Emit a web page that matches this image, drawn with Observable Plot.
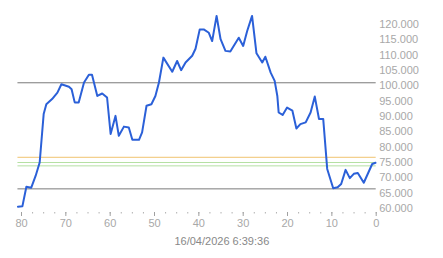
<!DOCTYPE html>
<html>
<head>
<meta charset="utf-8">
<script src="https://cdn.jsdelivr.net/npm/d3@7"></script>
<script src="https://cdn.jsdelivr.net/npm/@observablehq/plot@0.6"></script>
<style>
  html, body { margin: 0; padding: 0; background: #fff; }
  #chart svg { display: block; }
</style>
</head>
<body>
<div id="chart"></div>
<script>
// Days ago (x) and price (y)
const days = [80.8, 79.8, 78.9, 77.8, 76.8, 75.9, 75.0, 74.4, 73.1, 71.9, 71.0, 69.3, 68.7, 68.0, 67.1, 65.9, 64.8, 64.1, 62.9, 61.8,
  60.7, 59.9, 58.8, 58.05, 56.9, 55.8, 55.0, 53.5, 52.8, 51.8, 50.7, 49.8, 49.0, 48.0, 46.0, 44.9, 44.0, 43.0, 41.5, 40.75,
  39.8, 38.9, 37.75, 37.0, 36.0, 35.1, 34.0, 32.9, 31.0, 30.0, 29.1, 28.0, 27.0, 25.7, 25.0, 23.8, 22.9, 22.3, 22.0, 21.1,
  20.1, 18.9, 18.0, 17.1, 15.9, 14.8, 13.85, 12.9, 11.95, 11.05, 9.7, 8.7, 7.9, 6.9, 5.95, 5.05, 4.15, 2.8, 0.9, 0.15];
const prices = [60600, 60700, 67100, 66800, 70700, 75000, 90800, 94000, 95700, 97800, 100500, 99700, 98900, 94600, 94600, 101100, 103600, 103600, 96700, 97500,
  96200, 84300, 90200, 83700, 86700, 86400, 82400, 82400, 84800, 93500, 94000, 96700, 101100, 109200, 104600, 108100, 105100, 107600, 109800, 112100,
  118400, 118400, 117300, 114600, 122800, 115200, 111400, 111200, 115700, 113000, 117900, 122800, 110600, 107600, 109500, 104300, 101600, 96700, 91300, 90500,
  92900, 91900, 86100, 87500, 88100, 91300, 96500, 89200, 89200, 72900, 66600, 66900, 68000, 72600, 69900, 71300, 71600, 68400, 74500, 74900];

const refLevels = [101000, 66400, 76700, 75000, 73900];
const refColors = ["#7a7a7a", "#7a7a7a", "#f0c470", "#b5e0a3", "#b5e0a3"];

const yTicks = [60000, 65000, 70000, 75000, 80000, 85000, 90000, 95000, 100000, 105000, 110000, 115000, 120000];
const xMajorTicks = [80, 70, 60, 50, 40, 30, 20, 10, 0];
const xMinorTicks = d3.range(0, 80.01, 2.5);
const caption = "16/04/2026 6:39:36";

const data = days.map((d, i) => ({d, p: prices[i]}));
const refs = refLevels.map((v, i) => ({v, c: refColors[i]}));

const fmt = d3.formatLocale({decimal: ",", thousands: ".", grouping: [3], currency: ["", ""]}).format(",");

const chart = Plot.plot({
  width: 443,
  height: 258,
  marginLeft: 21,
  marginRight: 67.3,
  marginTop: 24,
  marginBottom: 46,
  style: {fontFamily: "'Liberation Sans', Arial, sans-serif", fontSize: "11px", color: "#a8a8a8", background: "#fff"},
  x: {domain: [80, 0], label: null},
  y: {domain: [60000, 120000], range: [208, 24], label: null},
  marks: [
    Plot.ruleY(refs, {y: "v", x1: days[0], x2: 0, stroke: "c", strokeWidth: 1}),
    Plot.line(data, {x: "d", y: "p", stroke: "#2b60d8", strokeWidth: 2, curve: "linear"}),
    Plot.axisY({anchor: "right", ticks: yTicks, tickSize: 0, tickPadding: 3, tickFormat: v => fmt(v), fill: "#a8a8a8"}),
    Plot.axisX({ticks: xMinorTicks, tickSize: 1.5, tickFormat: () => "", stroke: "#b0b0b0"}),
    Plot.axisX({ticks: xMajorTicks, tickSize: 4, tickPadding: 3, stroke: "#a0a0a0", fill: "#a8a8a8", tickFormat: d => String(d)}),
    Plot.text([caption], {frameAnchor: "bottom", dx: 23, dy: 29, text: d => d, fill: "#888", fontSize: 11, lineAnchor: "middle"})
  ]
});
document.getElementById("chart").appendChild(chart);
</script>
</body>
</html>
